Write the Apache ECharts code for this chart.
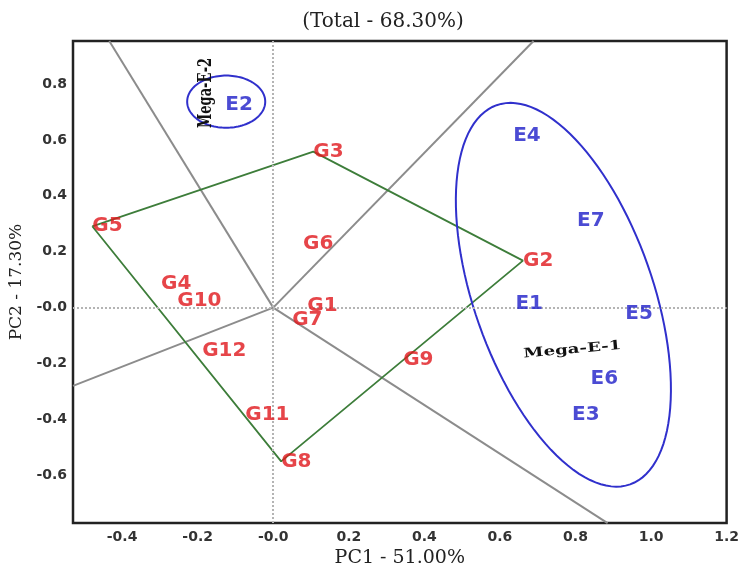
<!DOCTYPE html>
<html>
<head>
<meta charset="utf-8">
<script src="https://cdn.jsdelivr.net/npm/echarts@6/dist/echarts.min.js"></script>
<style>html,body{margin:0;padding:0;background:#fff}#c{width:742px;height:573px}</style>
</head>
<body>
<div id="c"></div>
<script>
// Genotype labels (left edge of label at point)
const genoNames = ['G1','G2','G3','G4','G5','G6','G7','G8','G9','G10','G11','G12'];
const genoX = [0.090, 0.661, 0.106, -0.297, -0.479, 0.079, 0.050, 0.021, 0.344, -0.254, -0.074, -0.188];
const genoY = [0.007, 0.168, 0.558, 0.084, 0.291, 0.228, -0.042, -0.550, -0.186, 0.025, -0.382, -0.154];
// Environment labels
const envNames = ['E1','E2','E3','E4','E5','E6','E7'];
const envX = [0.641, -0.127, 0.791, 0.635, 0.932, 0.840, 0.804];
const envY = [0.012, 0.726, -0.384, 0.616, -0.021, -0.255, 0.312];
// Polygon vertices (which-won-where)
const hullOrder = ['G5','G3','G2','G8','G5'];
// Ray ends from origin (perpendiculars to polygon sides)
const rayEndX = [-0.434, 0.689, 0.885, -0.530];
const rayEndY = [0.954, 0.954, -0.771, -0.280];
// Tick labels
const xTicks = [-0.4, -0.2, 0.0, 0.2, 0.4, 0.6, 0.8, 1.0, 1.2];
const yTicks = [-0.6, -0.4, -0.2, 0.0, 0.2, 0.4, 0.6, 0.8];
// Mega-environment annotations
const megaNames = ['Mega-E-1', 'Mega-E-2'];
const megaX = [0.792, -0.177];
const megaY = [-0.151, 0.768];

const chart = echarts.init(document.getElementById('c'));
const fmt = v => (Math.abs(v) < 1e-9 ? '-0.0' : v.toFixed(1));

const idx = n => genoNames.indexOf(n);
const hullData = hullOrder.map(n => [genoX[idx(n)], genoY[idx(n)]]);

const raySeries = rayEndX.map((x, i) => ({
  type: 'line', data: [[0, 0], [x, rayEndY[i]]], symbol: 'none', silent: true,
  lineStyle: { color: '#8c8c8c', width: 2 }, z: 2
}));

// ellipse shapes: center in data, semi-axes in x-axis units, rotation (deg, screen)
const ellipses = [
  { cx: 0.768, cy: 0.046, a: 0.532, b: 0.2366, rot: 70.6 },
  { cx: -0.1245, cy: 0.737, a: 0.1033, b: 0.069, rot: 0 }
];
// annotation text styling: rotation (deg) and stretch
const megaStyle = [
  { rot: 5, sx: 1.4, sy: 1 },
  { rot: 90, sx: 1, sy: 1.45 }
];

const option = {
  animation: false,
  graphic: [{
    type: 'text', x: 383, y: 22,
    style: { text: '(Total - 68.30%)', textAlign: 'center', textVerticalAlign: 'middle',
      font: '20px "DejaVu Serif"', fill: '#222' }
  }],
  grid: { left: 73, right: 15, top: 41, bottom: 39, show: true, borderColor: '#222', borderWidth: 2.5, backgroundColor: 'transparent' },
  xAxis: {
    type: 'value', min: -0.53, max: 1.2,
    name: 'PC1 - 51.00%', nameLocation: 'middle', nameGap: 23,
    nameTextStyle: { fontFamily: 'DejaVu Serif', fontSize: 19, color: '#222' },
    axisLine: { show: false }, axisTick: { show: false }, splitLine: { show: false },
    axisLabel: { customValues: xTicks, formatter: fmt, margin: 7, fontFamily: 'DejaVu Sans', fontWeight: 'bold', fontSize: 14, color: '#333' }
  },
  yAxis: {
    type: 'value', min: -0.771, max: 0.954,
    name: 'PC2 - 17.30%', nameLocation: 'middle', nameGap: 38,
    nameTextStyle: { fontFamily: 'DejaVu Serif', fontSize: 17, color: '#222' },
    axisLine: { show: false }, axisTick: { show: false }, splitLine: { show: false },
    axisLabel: { customValues: yTicks, formatter: fmt, margin: 6, fontFamily: 'DejaVu Sans', fontWeight: 'bold', fontSize: 14, color: '#333' }
  },
  series: [
    {
      type: 'line', data: [], symbol: 'none', silent: true,
      markLine: {
        symbol: 'none', silent: true, label: { show: false },
        lineStyle: { color: '#b4b4b4', type: 'dotted', width: 2 },
        data: [{ xAxis: 0 }, { yAxis: 0 }]
      }
    },
    ...raySeries,
    {
      type: 'line', data: hullData, symbol: 'none', silent: true,
      lineStyle: { color: '#3d7d3a', width: 1.8 }, z: 3
    },
    {
      type: 'custom', silent: true, z: 4,
      data: ellipses.map(e => [e.cx, e.cy, e.a, e.b, e.rot]),
      renderItem: function (params, api) {
        const c = api.coord([api.value(0), api.value(1)]);
        const sx = api.size([1, 0])[0];
        const a = api.value(2) * sx, b = api.value(3) * sx;
        const th = api.value(4) * Math.PI / 180;
        const pts = [];
        for (let k = 0; k < 120; k++) {
          const t = 2 * Math.PI * k / 120;
          const u = a * Math.cos(t), v = b * Math.sin(t);
          pts.push([c[0] + u * Math.cos(th) - v * Math.sin(th), c[1] + u * Math.sin(th) + v * Math.cos(th)]);
        }
        return { type: 'polygon', shape: { points: pts }, style: { fill: 'none', stroke: '#3030cc', lineWidth: 2 } };
      }
    },
    {
      type: 'scatter', symbolSize: 0, silent: true, z: 5,
      data: genoNames.map((n, i) => ({ name: n, value: [genoX[i], genoY[i]] })),
      label: { show: true, position: 'right', distance: 0, formatter: '{b}', fontFamily: 'DejaVu Sans', fontWeight: 'bold', fontSize: 20, color: '#e0161c' }
    },
    {
      type: 'scatter', symbolSize: 0, silent: true, z: 5,
      data: envNames.map((n, i) => ({ name: n, value: [envX[i], envY[i]] })),
      label: { show: true, position: 'right', distance: 0, formatter: '{b}', fontFamily: 'DejaVu Sans', fontWeight: 'bold', fontSize: 20, color: '#1e1ec8' }
    },
    {
      type: 'custom', silent: true, z: 6,
      data: megaNames.map((n, i) => [megaX[i], megaY[i], i]),
      renderItem: function (params, api) {
        const c = api.coord([api.value(0), api.value(1)]);
        const i = api.value(2);
        const s = megaStyle[i];
        return {
          type: 'text', x: c[0], y: c[1], rotation: s.rot * Math.PI / 180, scaleX: s.sx, scaleY: s.sy,
          style: { text: megaNames[i], textAlign: 'center', textVerticalAlign: 'middle',
            font: 'bold 13px "DejaVu Serif"', fill: '#111' }
        };
      }
    }
  ]
};
chart.setOption(option);
</script>
</body>
</html>
